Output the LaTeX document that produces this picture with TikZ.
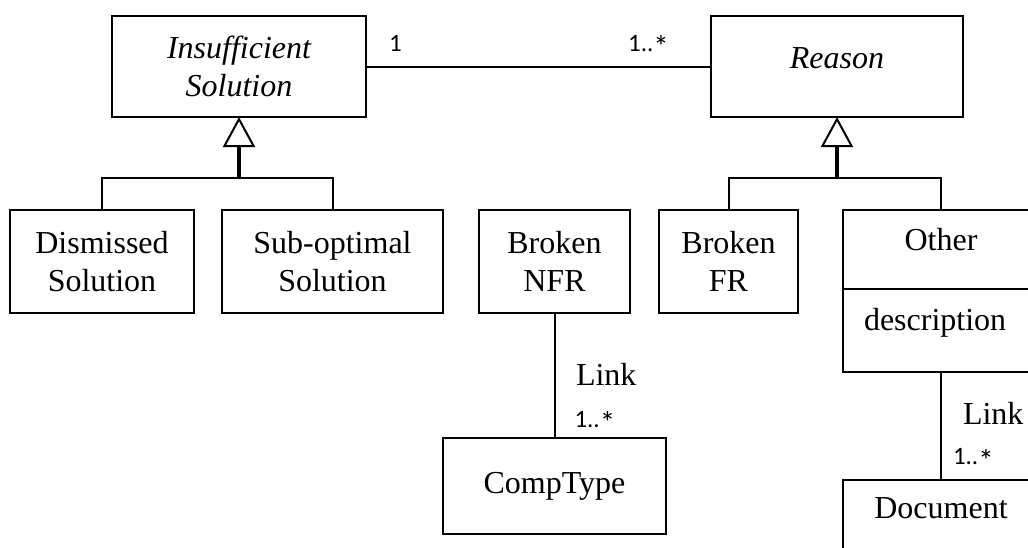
\documentclass[tikz,border=0pt]{standalone}
\usepackage{fontspec}
\setmainfont{Liberation Serif}
\newfontfamily\calibrifont{Carlito}
\usetikzlibrary{arrows.meta,positioning}
\newcommand{\boxfont}{\fontsize{16}{19}\selectfont}
\newcommand{\multfont}{\calibrifont\fontsize{12.5}{15}\selectfont}
\newcommand{\manystar}{\raisebox{-3.2pt}{\fontsize{15.5}{15}\selectfont*}}

\begin{document}
\begin{tikzpicture}[x=0.5pt,y=-0.5pt,line width=1pt,
                    class node/.style={rectangle,draw,outer sep=0pt,inner sep=0pt,align=center,font=\boxfont},
                    mult/.style={font=\multfont,inner sep=0pt,anchor=base west},
                    role/.style={font=\boxfont,inner sep=0pt,anchor=base west},
                    gen edge/.style={line width=1.6pt,-{Triangle[open,width=16pt,length=15pt,line width=1pt]}}]
                    \path[use as bounding box,fill=white] (0,0) rectangle (1028,547);
                    \clip (0,0) rectangle (1028,547);
                    \node[class node,font=\boxfont\itshape,minimum width=127pt,minimum height=50.5pt] (ins) at (239,66.5) {Insufficient\\Solution};
                    \node[class node,font=\boxfont\itshape,minimum width=126pt,text height=26pt,text depth=24.5pt] (rsn) at (837,66.5) {Reason};
                    \node[class node,minimum width=92pt,minimum height=51.5pt] (dis) at (102,261.5) {Dismissed\\Solution};
                    \node[class node,minimum width=110.5pt,minimum height=51.5pt] (sub) at (332.5,261.5) {Sub-optimal\\Solution};
                    \node[class node,minimum width=75.5pt,minimum height=51.5pt] (nfr) at (554.5,261.5) {Broken\\NFR};
                    \node[class node,minimum width=69.5pt,minimum height=51.5pt] (fr) at (728.5,261.5) {Broken\\FR};
                    \node[class node,minimum width=98pt,text height=20pt,text depth=19.5pt] (oth) at (941,249.5) {Other};
                    \node[class node,text width=77pt,inner xsep=10.5pt,align=left,text height=20.5pt,text depth=21pt,below=0pt of oth] (othd) {description};
                    \node[class node,minimum width=111.5pt,minimum height=48pt,below=62.5pt of nfr] (cmp) {CompType};
                    \node[class node,minimum width=98pt,text height=19pt,text depth=20.5pt,below=54pt of othd] (doc) {Document};
                    \coordinate[below=30.5pt of ins.south] (gl);
                    \coordinate[below=30.5pt of rsn.south] (gr);
                    \draw (dis.north) |- (gl) -| (sub.north);
                    \draw (fr.north) |- (gr) -| (oth.north);
                    \draw[gen edge] (gl) -- (ins.south);
                    \draw[gen edge] (gr) -- (rsn.south);
                    \path
                        (ins)
                        edge node[mult,pos=.064,yshift=7.75pt] {1} node[mult,pos=.757,yshift=7.75pt] {1..\manystar} (rsn)

                        (nfr)
                        edge node[role,pos=.576,xshift=10.25pt] {Link} node[mult,pos=.912,xshift=9.5pt] {1..\manystar} (cmp)

                        (othd)
                        edge node[role,pos=.49,xshift=10.5pt] {Link} node[mult,pos=.861,xshift=5.5pt] {1..\manystar} (doc)

                        ;
                \end{tikzpicture}
\end{document}
